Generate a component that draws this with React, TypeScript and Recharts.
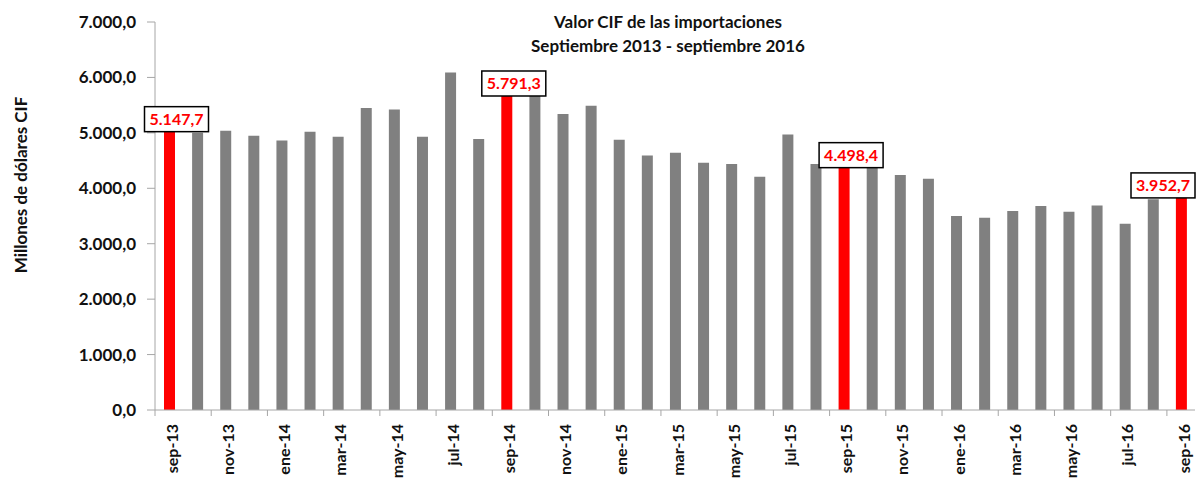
import React from 'react';
import { BarChart, Bar, XAxis, YAxis, Cell, LabelList } from 'recharts';

const meses = [
  'sep-13', 'oct-13', 'nov-13', 'dic-13', 'ene-14', 'feb-14', 'mar-14', 'abr-14', 'may-14', 'jun-14',
  'jul-14', 'ago-14', 'sep-14', 'oct-14', 'nov-14', 'dic-14', 'ene-15', 'feb-15', 'mar-15', 'abr-15',
  'may-15', 'jun-15', 'jul-15', 'ago-15', 'sep-15', 'oct-15', 'nov-15', 'dic-15', 'ene-16', 'feb-16',
  'mar-16', 'abr-16', 'may-16', 'jun-16', 'jul-16', 'ago-16', 'sep-16',
];

const valores = [
  5147.7, 5000, 5040, 4950, 4860, 5020, 4930, 5450, 5420, 4930,
  6090, 4890, 5791.3, 5700, 5340, 5490, 4875, 4590, 4640, 4460,
  4440, 4210, 4970, 4440, 4498.4, 4520, 4240, 4170, 3500, 3470,
  3590, 3680, 3575, 3690, 3360, 3800, 3952.7,
];

const destacados = ['sep-13', 'sep-14', 'sep-15', 'sep-16'];

const ticksY = [0, 1000, 2000, 3000, 4000, 5000, 6000, 7000];

const data = meses.map((mes, i) => ({ mes, valor: valores[i] }));

const FONT = 'Lato, "Open Sans", sans-serif';
const W = 1196;
const H = 479;
const PLOT_LEFT = 155;
const PLOT_RIGHT = 1195;
const BANDA = (PLOT_RIGHT - PLOT_LEFT) / meses.length;

// 5147.7 -> "5.147,7"
const formato = (v: number) => {
  const [ent, dec] = v.toFixed(1).split('.');
  return ent.replace(/\B(?=(\d{3})+(?!\d))/g, '.') + ',' + dec;
};

const XTick = ({ x, y, payload }: any) => {
  const xl = x - BANDA / 2;
  return (
    <g>
      <line x1={xl} x2={xl} y1={y} y2={y + 6} stroke="#a6a6a6" />
      <text
        transform={`translate(${x + 3},${y + 14}) rotate(-90)`}
        textAnchor="end"
        dy="0.35em"
        fontSize={16}
        fontWeight="bold"
        fontFamily={FONT}
        fill="#111"
      >
        {payload.value}
      </text>
    </g>
  );
};

const Etiqueta = (props: any) => {
  const { x, y, width, value, index } = props;
  if (!destacados.includes(meses[index])) return null;
  const w = 64;
  const h = 25;
  const cx = Math.min(x + width / 2 + 7, PLOT_RIGHT - w / 2);
  const top = y + 7 - h;
  return (
    <g>
      <rect x={cx - w / 2} y={top} width={w} height={h} fill="#fff" stroke="#000" strokeWidth={1.5} />
      <text
        x={cx}
        y={top + h / 2}
        dy="0.35em"
        textAnchor="middle"
        fontSize={16}
        fontWeight="bold"
        fontFamily={FONT}
        fill="#ff0000"
      >
        {formato(value)}
      </text>
    </g>
  );
};

const App: React.FC = () => {
  return (
    <div style={{ position: 'fixed', left: 0, top: 0, width: W, height: H, background: '#fff', fontFamily: FONT }}>
      <BarChart width={W} height={H} data={data} margin={{ top: 22, right: W - PLOT_RIGHT, left: 0, bottom: 0 }}>
        <XAxis
          dataKey="mes"
          interval={1}
          height={69}
          tickSize={0}
          tickMargin={0}
          tick={<XTick />}
          stroke="#a6a6a6"
        />
        <YAxis
          width={PLOT_LEFT}
          domain={[0, 7000]}
          ticks={ticksY}
          tickFormatter={formato}
          tickSize={8}
          tickMargin={11}
          stroke="#a6a6a6"
          tick={{ fill: '#111', fontSize: 17, fontWeight: 'bold', fontFamily: FONT }}
        />
        <Bar dataKey="valor" barSize={11} isAnimationActive={false}>
          {data.map((d) => (
            <Cell key={d.mes} fill={destacados.includes(d.mes) ? '#ff0000' : '#808080'} />
          ))}
          <LabelList dataKey="valor" content={<Etiqueta />} />
        </Bar>
      </BarChart>
      <div
        style={{
          position: 'absolute',
          left: 418,
          top: 10,
          width: 500,
          textAlign: 'center',
          fontSize: 17,
          fontWeight: 'bold',
          lineHeight: '24px',
          color: '#111',
        }}
      >
        Valor CIF de las importaciones
        <br />
        Septiembre 2013 - septiembre 2016
      </div>
      <div
        style={{
          position: 'absolute',
          left: 20,
          top: 185,
          transform: 'translate(-50%, -50%) rotate(-90deg)',
          whiteSpace: 'nowrap',
          fontSize: 17,
          fontWeight: 'bold',
          color: '#111',
        }}
      >
        Millones de dólares CIF
      </div>
    </div>
  );
};

export default App;
